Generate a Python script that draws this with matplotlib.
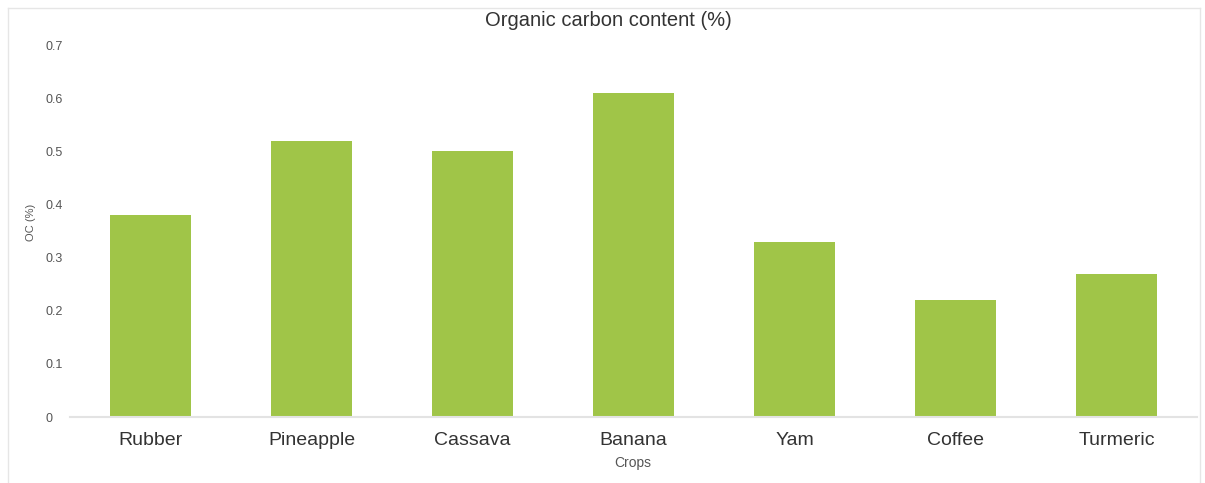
import matplotlib.pyplot as plt
from matplotlib.lines import Line2D

plt.rcParams['font.family'] = ['Liberation Sans', 'DejaVu Sans']

crops = ['Rubber', 'Pineapple', 'Cassava', 'Banana', 'Yam', 'Coffee', 'Turmeric']
oc = [0.38, 0.52, 0.50, 0.61, 0.33, 0.22, 0.27]
yticks = [0, 0.1, 0.2, 0.3, 0.4, 0.5, 0.6, 0.7]
ytick_labels = ['0', '0.1', '0.2', '0.3', '0.4', '0.5', '0.6', '0.7']

W, H = 1205, 483
fig = plt.figure(figsize=(W / 100, H / 100), dpi=100)
ax = fig.add_axes([70 / W, 1 - 417 / H, (1197 - 70) / W, (417 - 45) / H])

# light frame round the chart, like the exported office chart
for xs, ys in [([8 / W, 1200 / W], [1 - 8 / H, 1 - 8 / H]),
               ([8 / W, 8 / W], [0, 1 - 8 / H]),
               ([1200 / W, 1200 / W], [0, 1 - 8 / H])]:
    fig.add_artist(Line2D(xs, ys, color='#e6e6e6', lw=1))

ax.bar(range(len(crops)), oc, width=0.5, color='#a0c548')
ax.set_xlim(-0.5, len(crops) - 0.5)
ax.set_ylim(0, 0.7)

for s in ['top', 'right', 'left']:
    ax.spines[s].set_visible(False)
ax.spines['bottom'].set_color('#e3e3e3')
ax.spines['bottom'].set_linewidth(1.5)

ax.set_xticks(range(len(crops)))
ax.set_xticklabels(crops, fontsize=14, color='#333333')
ax.set_yticks(yticks)
ax.set_yticklabels(ytick_labels, fontsize=9, color='#555555', ha='left')
ax.tick_params(axis='both', length=0)
ax.tick_params(axis='x', pad=11)
ax.tick_params(axis='y', pad=18)

# axis titles and chart title placed in figure pixels
fig.text(633 / W, 1 - 463 / H, 'Crops', ha='center', va='center',
         fontsize=10, color='#555555')
fig.text(31 / W, 1 - 222 / H, 'OC (%)', ha='center', va='center', rotation=90,
         fontsize=8, color='#555555')
fig.text(608 / W, 1 - 20 / H, 'Organic carbon content (%)', ha='center', va='center',
         fontsize=14.5, color='#333333')

fig.savefig('out.png', dpi=100, facecolor='white')
